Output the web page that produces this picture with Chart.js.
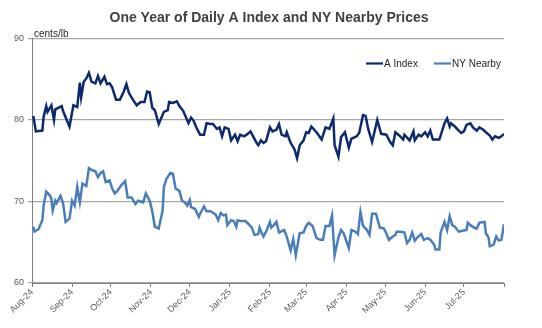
<!DOCTYPE html>
<html><head><meta charset="utf-8">
<script src="https://cdn.jsdelivr.net/npm/chart.js@4/dist/chart.umd.min.js"></script>
<style>html,body{margin:0;padding:0;background:#fff}#wrap{width:542px;height:328px}</style>
</head><body><div id="wrap"><canvas id="c" width="542" height="328"></canvas></div>
<script>
// x positions are day offsets from 1 Aug 2024
const monthTicks = [0,31,61,92,122,153,184,212,243,273,304,334,365];
const monthLabels = ['Aug-24','Sep-24','Oct-24','Nov-24','Dec-24','Jan-25','Feb-25','Mar-25','Apr-25','May-25','Jun-25','Jul-25',''];
const yTicks = [60,70,80,90];
const seriesNames = ['A Index','NY Nearby'];
const chartTitle = 'One Year of Daily A Index and NY Nearby Prices';
const unitLabel = 'cents/lb';

const aDays = [1,3,8,9,11,12,15,17,18,23,24,29,32,35,37,38,40,42,44,46,49,51,53,56,58,60,62,65,68,71,73,75,78,81,84,87,89,91,93,95,98,102,105,106,109,112,114,117,121,123,125,127,130,133,135,138,140,143,145,147,149,152,154,157,159,161,164,166,169,171,174,175,177,179,181,184,186,189,191,193,196,197,200,203,205,207,210,212,214,216,220,224,227,230,233,234,237,239,242,245,247,251,253,256,258,260,263,267,270,274,277,279,281,284,287,288,292,295,296,299,301,304,306,308,310,315,318,319,321,323,324,327,330,332,334,336,339,341,344,346,349,351,354,356,358,361,363,365];
const aIndex = [80.5,78.6,78.7,80.4,81.7,81.0,81.8,80.0,81.3,81.7,81.1,79.2,81.8,81.6,84.6,82.8,84.7,85.1,85.8,84.7,84.5,85.4,84.5,85.3,84.4,84.5,84.0,82.5,82.5,83.5,84.4,83.3,82.5,81.8,82.2,82.2,83.5,83.4,81.5,81.2,79.5,81.0,81.2,82.2,82.1,82.3,81.7,81.1,79.6,80.3,79.9,79.1,78.2,78.2,79.6,79.5,79.5,78.9,79.1,78.0,79.1,78.9,77.5,78.2,77.4,78.2,78.0,78.2,78.6,78.0,77.1,76.9,77.5,77.2,77.4,79.1,78.6,78.8,79.5,78.2,78.0,78.5,77.2,76.4,75.3,76.9,77.5,78.5,78.4,79.2,78.5,77.6,79.1,78.9,80.2,76.9,75.5,77.9,78.5,76.6,77.7,78.0,78.4,80.6,80.5,78.9,77.3,80.0,78.3,78.2,77.3,76.9,78.5,78.1,77.6,78.2,77.5,78.6,77.5,78.2,78.0,78.5,78.0,78.7,77.6,77.6,79.1,79.6,80.2,79.2,79.6,79.2,78.7,78.4,78.6,79.4,79.6,79.1,78.7,79.1,78.8,78.5,78.1,77.6,78.0,77.8,78.0,78.3];

const nyDays = [1,2,5,8,9,11,14,15,16,18,19,22,24,26,29,31,33,35,37,39,42,44,47,49,51,53,55,57,60,62,64,66,69,72,74,77,80,82,86,88,91,93,95,98,101,102,104,107,109,111,114,116,118,120,122,123,126,129,130,133,135,138,142,144,146,148,150,151,154,156,158,159,161,165,167,170,172,175,176,178,179,181,184,185,187,189,191,195,197,200,202,204,207,210,212,214,217,220,223,225,227,230,232,234,237,239,241,245,247,250,252,254,256,259,261,263,266,269,272,274,276,279,281,282,285,288,290,292,294,296,298,301,303,306,308,311,312,315,316,319,321,323,325,327,330,333,336,337,339,343,344,346,350,351,353,354,357,359,361,363,365];
const nyNearby = [66.9,66.3,66.6,67.7,69.5,71.2,70.7,70.3,68.9,70.1,69.8,70.7,69.8,67.5,67.9,70.1,69.5,71.8,69.9,72.2,71.9,74.1,73.8,73.7,73.0,73.5,73.7,72.4,72.6,71.6,71.0,71.3,72.0,72.5,70.5,70.5,69.7,70.1,69.9,71.0,70.1,68.8,66.9,66.7,68.9,71.8,72.8,73.5,73.4,71.6,71.3,70.1,69.9,69.5,70.2,69.3,69.1,68.1,68.5,69.4,68.8,68.8,68.4,67.7,68.6,68.3,68.4,67.1,67.7,67.6,66.9,67.7,67.6,67.6,67.3,66.8,65.9,66.0,66.8,66.0,65.7,66.3,67.5,66.8,67.1,67.5,66.2,66.5,65.7,64.0,65.4,63.4,66.1,66.2,67.0,67.4,67.0,65.5,65.3,65.3,67.0,67.0,68.3,63.4,65.6,66.5,66.1,64.3,66.5,66.3,66.0,68.7,67.0,66.5,65.9,68.5,68.5,66.8,66.7,66.1,65.3,65.7,65.9,66.3,66.3,66.2,64.9,65.3,66.2,65.2,65.6,66.0,65.3,65.5,65.3,64.7,64.1,64.1,66.2,67.5,66.5,68.2,67.1,66.9,66.3,66.4,66.5,67.4,67.1,66.7,66.7,67.4,67.5,66.1,65.6,64.5,64.7,65.7,65.2,65.3,67.2];

const colA = '#0d2a6e';
const colNY = '#4a7ebb';
const FONT = "'Liberation Sans', Arial, sans-serif";
Chart.defaults.font.family = FONT;

const overlay = {
  id: 'overlay',
  afterDraw(chart) {
    const ctx = chart.ctx;
    const ca = chart.chartArea;
    ctx.save();
    // title
    ctx.font = "bold 14px " + FONT;
    ctx.fillStyle = '#404040';
    ctx.textAlign = 'center';
    ctx.textBaseline = 'middle';
    ctx.fillText(chartTitle, 269, 18);
    // unit label
    ctx.font = "10px " + FONT;
    ctx.fillStyle = '#262626';
    ctx.textBaseline = 'alphabetic';
    ctx.textAlign = 'left';
    ctx.fillText(unitLabel, ca.left + 2, ca.top - 2);
    // legend
    const items = [[366, colA, seriesNames[0]], [434, colNY, seriesNames[1]]];
    const ly = ca.top + 25;
    ctx.textBaseline = 'middle';
    items.forEach(([x, c, t]) => {
      ctx.strokeStyle = c; ctx.lineWidth = 2.2;
      ctx.beginPath(); ctx.moveTo(x, ly); ctx.lineTo(x + 17, ly); ctx.stroke();
      ctx.fillStyle = '#262626';
      ctx.fillText(t, x + 18, ly + 0.5);
    });
    ctx.restore();
  }
};

new Chart(document.getElementById('c'), {
  type: 'line',
  data: {
    datasets: [
      { label: seriesNames[0], data: aDays.map((d, i) => ({x: d, y: aIndex[i]})), borderColor: colA, backgroundColor: colA, borderWidth: 2.5, pointRadius: 0, tension: 0 },
      { label: seriesNames[1], data: nyDays.map((d, i) => ({x: d, y: nyNearby[i]})), borderColor: colNY, backgroundColor: colNY, borderWidth: 2.5, pointRadius: 0, tension: 0 }
    ]
  },
  options: {
    responsive: false,
    devicePixelRatio: 1,
    animation: false,
    layout: { padding: { left: 0, right: 38, top: 38.5, bottom: 0 } },
    plugins: {
      legend: { display: false },
      tooltip: { enabled: false },
      title: { display: false }
    },
    scales: {
      x: {
        type: 'linear', min: monthTicks[0], max: monthTicks[monthTicks.length - 1],
        afterBuildTicks: s => { s.ticks = monthTicks.map(v => ({ value: v })); },
        afterFit: s => { s.height = 45; },
        ticks: { autoSkip: false, maxRotation: 45, minRotation: 45, color: '#595959', font: { size: 9 }, padding: 0, callback: (v, i) => monthLabels[i] },
        grid: { drawOnChartArea: false, drawTicks: true, tickLength: 4, color: '#808080' },
        border: { color: '#808080', width: 1 }
      },
      y: {
        min: yTicks[0], max: yTicks[yTicks.length - 1],
        afterBuildTicks: s => { s.ticks = yTicks.map(v => ({ value: v })); },
        afterFit: s => { s.width = 32; },
        ticks: { color: '#595959', font: { size: 9 }, padding: 4 },
        grid: { color: '#a6a6a6', lineWidth: 1.2, tickLength: 4, drawTicks: true },
        border: { color: '#808080', width: 1 }
      }
    }
  },
  plugins: [overlay]
});
</script></body></html>
